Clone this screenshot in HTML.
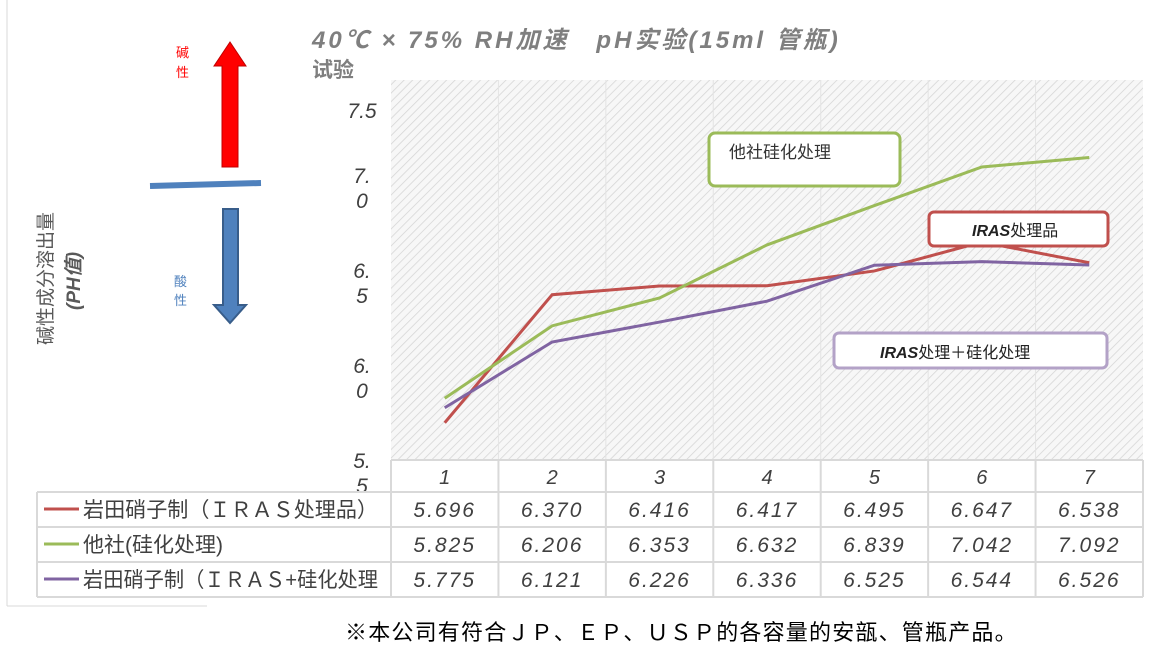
<!DOCTYPE html>
<html><head><meta charset="utf-8"><style>
body{margin:0;width:1152px;height:646px;background:#fff;overflow:hidden;font-family:"Liberation Sans","Noto Sans CJK SC",sans-serif}
</style></head><body>
<svg id="c" width="1152" height="646" xmlns="http://www.w3.org/2000/svg">
<defs><pattern id="hatch" width="6" height="6" patternUnits="userSpaceOnUse" patternTransform="rotate(45)"><rect width="6" height="6" fill="#f7f7f7"/><line x1="0" y1="0" x2="0" y2="6" stroke="#d4d4d4" stroke-width="1.5"/></pattern></defs>
<line x1="7" y1="0" x2="7" y2="606" stroke="#d9d9d9"/>
<line x1="7" y1="606" x2="207" y2="606" stroke="#d9d9d9"/>
<text x="312" y="48" font-size="24" font-weight="bold" font-style="italic" fill="#7f7f7f" letter-spacing="3">40℃ × 75% RH加速　pH实验(15ml 管瓶)</text>
<text x="312" y="77" font-size="21" font-weight="bold" fill="#7f7f7f">试验</text>
<rect x="391" y="80" width="752" height="380" fill="url(#hatch)"/>
<g id="grid"></g><g id="yt"></g><g id="tbl"></g><g id="lines"></g>
<text transform="translate(52,345) rotate(-90)" font-size="19" fill="#595959">碱性成分溶出量</text>
<text transform="translate(80,310) rotate(-90)" font-size="19" font-weight="bold" font-style="italic" fill="#595959">(PH值)</text>
<text x="176" y="57" font-size="13" fill="#ff0000">碱</text>
<text x="176" y="77" font-size="13" fill="#ff0000">性</text>
<polygon points="222,167 238,167 238,66 246,66 230,42 214,66 222,66" fill="#ff0000" stroke="#c00000"/>
<line x1="150" y1="186" x2="261" y2="183" stroke="#4f81bd" stroke-width="6"/>
<polygon points="223,209 238,209 238,305 246,305 230,323 214,305 223,305" fill="#4f81bd" stroke="#385d8a" stroke-width="2"/>
<text x="174" y="286" font-size="13" fill="#4f81bd">酸</text>
<text x="174" y="305" font-size="13" fill="#4f81bd">性</text>
<rect x="709" y="133" width="191" height="53" rx="6" fill="#fff" stroke="#9bbb59" stroke-width="3"/>
<text x="729" y="158" font-size="17" fill="#333">他社硅化处理</text>
<rect x="929" y="212" width="179" height="34" rx="5" fill="#fff" stroke="#c0504d" stroke-width="3"/>
<text x="972" y="236" font-size="16" fill="#222"><tspan font-style="italic" font-weight="bold">IRAS</tspan>处理品</text>
<rect x="834" y="333" width="273" height="35" rx="5" fill="#fff" stroke="#b3a2c7" stroke-width="3"/>
<text x="880" y="358" font-size="16" fill="#222"><tspan font-style="italic" font-weight="bold">IRAS</tspan>处理＋硅化处理</text>
<text x="345" y="640" font-size="22" fill="#000" letter-spacing="1.2">※本公司有符合ＪＰ、ＥＰ、ＵＳＰ的各容量的安瓿、管瓶产品。</text>
</svg>
<script>
const categories=["1","2","3","4","5","6","7"];
const seriesNames=["岩田硝子制（ＩＲＡＳ处理品）","他社(硅化处理)","岩田硝子制（ＩＲＡＳ+硅化处理"];
const seriesColors=["#c0504d","#9bbb59","#8064a2"];
const irasValues=[5.696,6.370,6.416,6.417,6.495,6.647,6.538];
const otherValues=[5.825,6.206,6.353,6.632,6.839,7.042,7.092];
const irasSiliconValues=[5.775,6.121,6.226,6.336,6.525,6.544,6.526];
const yTicks=[5.5,6.0,6.5,7.0,7.5];
const yTickLabels=[["5.","5"],["6.","0"],["6.","5"],["7.","0"],["7.5"]];
const NS="http://www.w3.org/2000/svg";
const X0=391,X1=1143,Y0=460,Y1=80,YMIN=5.5,YMAX=7.5;
const cw=(X1-X0)/categories.length;
function xs(i){return X0+cw*(i+0.5);}
function ys(v){return Y0-(v-YMIN)/(YMAX-YMIN)*(Y0-Y1);}
function el(t,a,p){const e=document.createElementNS(NS,t);for(const k in a)e.setAttribute(k,a[k]);p.appendChild(e);return e;}
const grid=document.getElementById('grid');
for(let i=1;i<categories.length;i++){const l=el('line',{x1:X0+cw*i,x2:X0+cw*i,y1:Y1,y2:Y0,stroke:'#e4e4e4'},grid);

}
const yt=document.getElementById('yt');
yTicks.forEach((v,i)=>{const lab=yTickLabels[i];lab.forEach((s,j)=>{const t=el('text',{x:362,y:ys(v)+(lab.length>1?8+j*25:38),'font-size':21,'font-style':'italic','text-anchor':'middle',fill:'#404040'},yt);t.textContent=s;

});});
const tbl=document.getElementById('tbl');
const rowsY=[460,492,527,562,597];
const bc='#d9d9d9';
el('line',{x1:X0,x2:X1,y1:460,y2:460,stroke:bc,'stroke-width':2},tbl);
for(let r=1;r<rowsY.length;r++)el('line',{x1:37,x2:X1,y1:rowsY[r],y2:rowsY[r],stroke:bc,'stroke-width':2},tbl);
el('line',{x1:37,x2:37,y1:492,y2:597,stroke:bc,'stroke-width':2},tbl);
for(let i=0;i<=categories.length;i++)el('line',{x1:X0+cw*i,x2:X0+cw*i,y1:460,y2:597,stroke:bc,'stroke-width':2},tbl);
categories.forEach((c,i)=>{const t=el('text',{x:xs(i),y:484,'font-size':20,'font-style':'italic','text-anchor':'middle',fill:'#404040'},tbl);t.textContent=c;

});
const allVals=[irasValues,otherValues,irasSiliconValues];
const lines=document.getElementById('lines');
allVals.forEach((vals,s)=>{
const ry=rowsY[s+1];
el('line',{x1:44,x2:79,y1:ry+17,y2:ry+17,stroke:seriesColors[s],'stroke-width':3},tbl);
const n=el('text',{x:83,y:ry+25,'font-size':21,fill:'#404040','textLength':295,'lengthAdjust':'spacingAndGlyphs'},tbl);n.textContent=seriesNames[s];
if(s===1){n.removeAttribute('textLength');n.removeAttribute('lengthAdjust');}


vals.forEach((v,i)=>{const t=el('text',{x:xs(i),y:ry+25,'font-size':21,'font-style':'italic','text-anchor':'middle',fill:'#404040','letter-spacing':2},tbl);t.textContent=v.toFixed(3);

});
const p=el('polyline',{points:vals.map((v,i)=>xs(i)+','+ys(v)).join(' '),fill:'none',stroke:seriesColors[s],'stroke-width':3},lines);


});
</script>
</body></html>
